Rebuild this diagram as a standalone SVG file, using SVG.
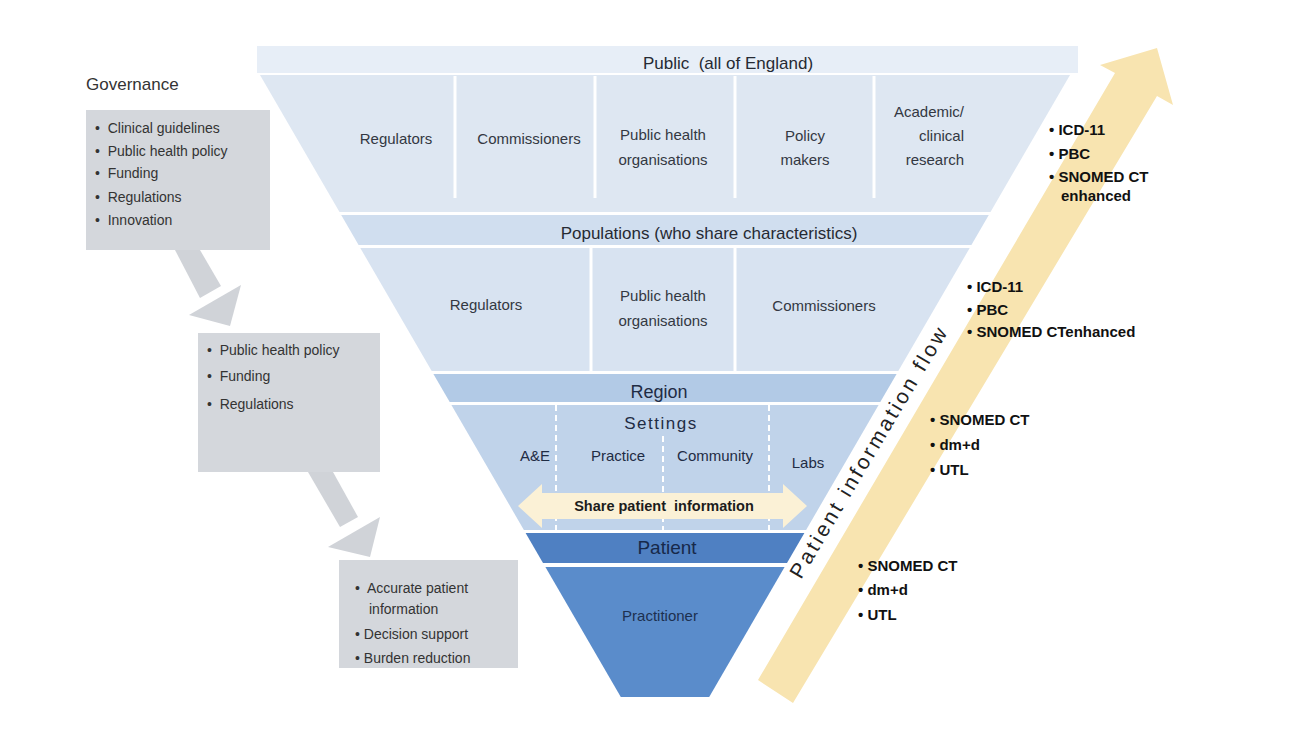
<svg xmlns="http://www.w3.org/2000/svg" width="1304" height="734" viewBox="0 0 1304 734">
<style>
  .t { font-family: "Liberation Sans", Arial, sans-serif; fill: #2e2e2e; }
  .lbl { font-size: 15px; text-anchor: middle; fill: #333842; }
  .hdr { font-size: 17px; text-anchor: middle; fill: #262a33; }
  .nv { fill: #1f2c44; }
  .box { fill: #d4d7dc; }
  .gar { fill: #d0d3d8; }
  .bl { font-size: 14px; fill: #333; }
  .code { font-size: 15px; font-weight: bold; fill: #111; }
  .vline { stroke: #ffffff; stroke-width: 3; }
  .dash { stroke: #ffffff; stroke-width: 2; stroke-dasharray: 6 4; }
</style>
<rect width="1304" height="734" fill="#ffffff"/>

<!-- Pyramid bands -->
<g id="public">
  <rect x="257" y="46" width="821" height="27" fill="#e7eef7"/>
  <text class="t hdr" x="728" y="69" style="white-space:pre">Public  (all of England)</text>
  <polygon points="260,75 1070,75 990.5,212 339.5,212" fill="#dee7f2"/>
  <line class="vline" x1="455" y1="76" x2="455" y2="198"/>
  <line class="vline" x1="595" y1="76" x2="595" y2="198"/>
  <line class="vline" x1="735" y1="76" x2="735" y2="198"/>
  <line class="vline" x1="874" y1="76" x2="874" y2="198"/>
  <text class="t lbl" x="396" y="144">Regulators</text>
  <text class="t lbl" x="529" y="144">Commissioners</text>
  <text class="t lbl" x="663" y="140">Public health</text>
  <text class="t lbl" x="663" y="165">organisations</text>
  <text class="t lbl" x="805" y="141">Policy</text>
  <text class="t lbl" x="805" y="165">makers</text>
  <text class="t lbl" x="964" y="117" style="text-anchor:end">Academic/</text>
  <text class="t lbl" x="964" y="141" style="text-anchor:end">clinical</text>
  <text class="t lbl" x="964" y="165" style="text-anchor:end">research</text>
</g>

<g id="populations">
  <polygon points="341.2,215 988.8,215 971.4,245 358.6,245" fill="#d0deef"/>
  <text class="t hdr" x="709" y="239">Populations (who share characteristics)</text>
  <polygon points="360.3,248 969.7,248 898.3,371 431.7,371" fill="#d8e3f1"/>
  <line class="vline" x1="591" y1="248" x2="591" y2="371"/>
  <line class="vline" x1="735" y1="248" x2="735" y2="371"/>
  <text class="t lbl" x="486" y="310">Regulators</text>
  <text class="t lbl" x="663" y="301">Public health</text>
  <text class="t lbl" x="663" y="326">organisations</text>
  <text class="t lbl" x="824" y="311">Commissioners</text>
</g>

<g id="region">
  <polygon points="433.4,374 896.6,374 880.3,402 449.7,402" fill="#b2cae6"/>
  <text class="t hdr nv" x="659" y="398" style="font-size:18px">Region</text>
</g>

<g id="settings">
  <polygon points="451.4,405 878.6,405 806.1,530 523.9,530" fill="#c0d3ea"/>
  <line class="dash" x1="556" y1="405" x2="556" y2="530"/>
  <line class="dash" x1="663" y1="436" x2="663" y2="530"/>
  <line class="dash" x1="769" y1="405" x2="769" y2="530"/>
  <text class="t hdr nv" x="661" y="429" style="letter-spacing:1.5px">Settings</text>
  <text class="t lbl nv" x="535" y="461">A&amp;E</text>
  <text class="t lbl nv" x="618" y="461">Practice</text>
  <text class="t lbl nv" x="715" y="461">Community</text>
  <text class="t lbl nv" x="808" y="468">Labs</text>
</g>

<g id="patient">
  <polygon points="525.6,533 804.4,533 787,563 543,563" fill="#4f80c2"/>
  <text class="t hdr" x="667" y="554" style="font-size:19px;fill:#17294a">Patient</text>
</g>

<g id="practitioner">
  <polygon points="545.4,567 784.6,567 709.2,697 620.8,697" fill="#5a8ccb"/>
  <text class="t lbl" x="660" y="621" style="fill:#1d3050">Practitioner</text>
</g>

<!-- Governance boxes -->
<g id="governance">
  <text class="t" x="86" y="90" style="font-size:17px;fill:#333">Governance</text>
  <rect class="box" x="86" y="110" width="184" height="140"/>
  <text class="t bl" x="95" y="133" style="white-space:pre">•  Clinical guidelines</text>
  <text class="t bl" x="95" y="156" style="white-space:pre">•  Public health policy</text>
  <text class="t bl" x="95" y="178" style="white-space:pre">•  Funding</text>
  <text class="t bl" x="95" y="202" style="white-space:pre">•  Regulations</text>
  <text class="t bl" x="95" y="225" style="white-space:pre">•  Innovation</text>
</g>

<g id="box2">
  <rect class="box" x="198" y="333" width="182" height="139"/>
  <text class="t bl" x="207" y="355" style="white-space:pre">•  Public health policy</text>
  <text class="t bl" x="207" y="381" style="white-space:pre">•  Funding</text>
  <text class="t bl" x="207" y="409" style="white-space:pre">•  Regulations</text>
</g>

<g id="box3">
  <rect class="box" x="339" y="560" width="179" height="108"/>
  <text class="t bl" x="355" y="593" style="white-space:pre">•  Accurate patient</text>
  <text class="t bl" x="369" y="614">information</text>
  <text class="t bl" x="355" y="639">• Decision support</text>
  <text class="t bl" x="355" y="663">• Burden reduction</text>
</g>

<!-- Connectors -->
<g id="connectors">
  <polygon class="gar" points="175,250 200,250 221,286 200,298"/>
  <polygon class="gar" points="189,315 241,285 230,326"/>
  <polygon class="gar" points="308,472 333,472 358,517 340,527"/>
  <polygon class="gar" points="328,547 380,517 370,557"/>
  <polygon points="518,506 542,484 542,493 783,493 783,484 807,506 783,528 783,519 542,519 542,528" fill="#fbf1d6"/>
  <text class="t" x="664" y="511" style="font-size:14.5px;font-weight:bold;text-anchor:middle;fill:#1c1c1c;white-space:pre">Share patient  information</text>
  <polygon points="758,680 1115,73 1100,65 1157,48 1173,105 1157,96 793,703" fill="#f8e4b0"/>
  <text class="t" transform="translate(801,580) rotate(-59.3)" x="0" y="0" style="font-size:21px;letter-spacing:3px;fill:#222">Patient information flow</text>
</g>

<!-- Terminology lists -->
<g id="codes1">
  <text class="t code" x="1049" y="135">• ICD-11</text>
  <text class="t code" x="1049" y="159">• PBC</text>
  <text class="t code" x="1049" y="182">• SNOMED CT</text>
  <text class="t code" x="1061" y="201">enhanced</text>
</g>
<g id="codes2">
  <text class="t code" x="967" y="292">• ICD-11</text>
  <text class="t code" x="967" y="315">• PBC</text>
  <text class="t code" x="967" y="337">• SNOMED CTenhanced</text>
</g>
<g id="codes3">
  <text class="t code" x="930" y="425">• SNOMED CT</text>
  <text class="t code" x="930" y="450">• dm+d</text>
  <text class="t code" x="930" y="475">• UTL</text>
</g>
<g id="codes4">
  <text class="t code" x="858" y="571">• SNOMED CT</text>
  <text class="t code" x="858" y="595">• dm+d</text>
  <text class="t code" x="858" y="620">• UTL</text>
</g>
</svg>
